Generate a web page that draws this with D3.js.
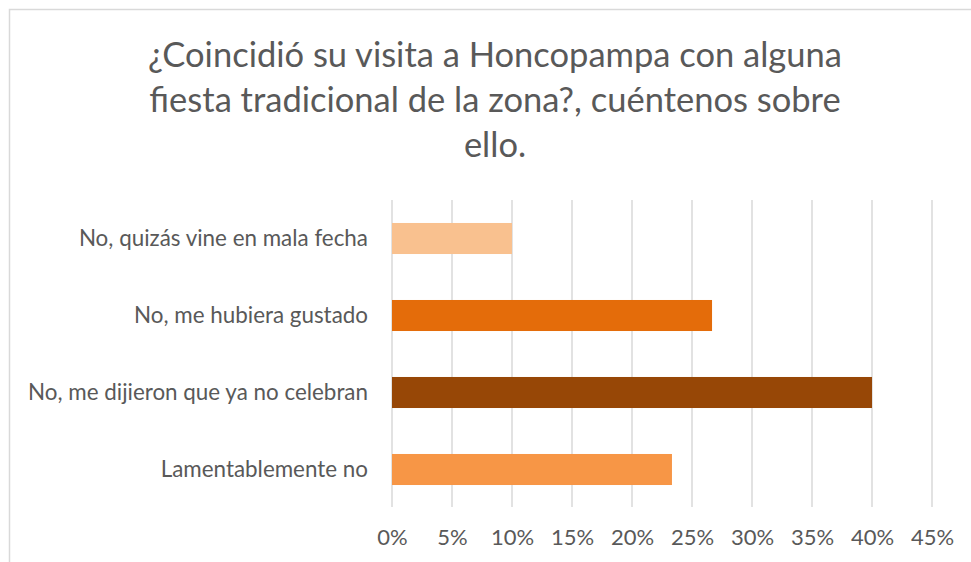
<!DOCTYPE html>
<html>
<head>
<meta charset="utf-8">
<script src="https://cdn.jsdelivr.net/npm/d3@7"></script>
<style>
  html, body { margin: 0; padding: 0; background: #ffffff; }
  svg { display: block; }
  text { font-family: Lato, "Open Sans", sans-serif; fill: #595959; }
</style>
</head>
<body>
<svg id="chart" width="971" height="562"></svg>
<script>
// Survey answers (top to bottom) and their share of respondents
const categories = [
  "No, quizás vine en mala fecha",
  "No, me hubiera gustado",
  "No, me dijieron que ya no celebran",
  "Lamentablemente no"
];
const values = [0.10, 0.2667, 0.40, 0.2333];
const barColors = ["#F9C18F", "#E46C0A", "#974706", "#F79646"];
const tickValues = [0, 0.05, 0.10, 0.15, 0.20, 0.25, 0.30, 0.35, 0.40, 0.45];
const titleLines = [
  "¿Coincidió su visita a Honcopampa con alguna",
  "fiesta tradicional de la zona?, cuéntenos sobre",
  "ello."
];

const svg = d3.select("#chart");

// Chart frame
svg.append("rect")
  .attr("x", 9.5).attr("y", 9.5)
  .attr("width", 1000).attr("height", 600)
  .attr("fill", "#ffffff")
  .attr("stroke", "#d9d9d9")
  .attr("stroke-width", 1.5);

// Title
const title = svg.append("text")
  .attr("text-anchor", "middle")
  .style("font-size", "34.5px");
titleLines.forEach((line, i) => {
  title.append("tspan")
    .attr("x", 495)
    .attr("y", 67 + i * 45)
    .text(line);
});

const x = d3.scaleLinear().domain([0, 0.45]).range([392, 932]);
const y = d3.scaleBand()
  .domain(categories)
  .range([200, 508])
  .paddingInner(0.597)
  .paddingOuter(0.2985);

// Vertical gridlines
svg.append("g")
  .selectAll("line")
  .data(tickValues)
  .join("line")
  .attr("x1", d => x(d)).attr("x2", d => x(d))
  .attr("y1", 200).attr("y2", 507)
  .attr("stroke", "#d9d9d9")
  .attr("stroke-width", 1.5);

// Bars
svg.append("g")
  .selectAll("rect")
  .data(categories)
  .join("rect")
  .attr("x", x(0))
  .attr("y", d => y(d))
  .attr("width", (d, i) => x(values[i]) - x(0))
  .attr("height", y.bandwidth())
  .attr("fill", (d, i) => barColors[i]);

// Value axis labels
const xAxis = d3.axisBottom(x)
  .tickValues(tickValues)
  .tickFormat(d3.format(".0%"))
  .tickSize(0)
  .tickPadding(0);
const gx = svg.append("g")
  .attr("transform", "translate(0,529)")
  .call(xAxis);
gx.select(".domain").remove();
gx.selectAll("text")
  .attr("dy", "0.71em")
  .style("font-size", "22px")
  .style("font-family", "Lato, 'Open Sans', sans-serif")
  .attr("fill", "#595959");

// Category labels
const yAxis = d3.axisLeft(y).tickSize(0).tickPadding(0);
const gy = svg.append("g")
  .attr("transform", "translate(368,0)")
  .call(yAxis);
gy.select(".domain").remove();
gy.selectAll("text")
  .style("font-size", "22.4px")
  .style("font-family", "Lato, 'Open Sans', sans-serif")
  .attr("fill", "#595959");
</script>
</body>
</html>
